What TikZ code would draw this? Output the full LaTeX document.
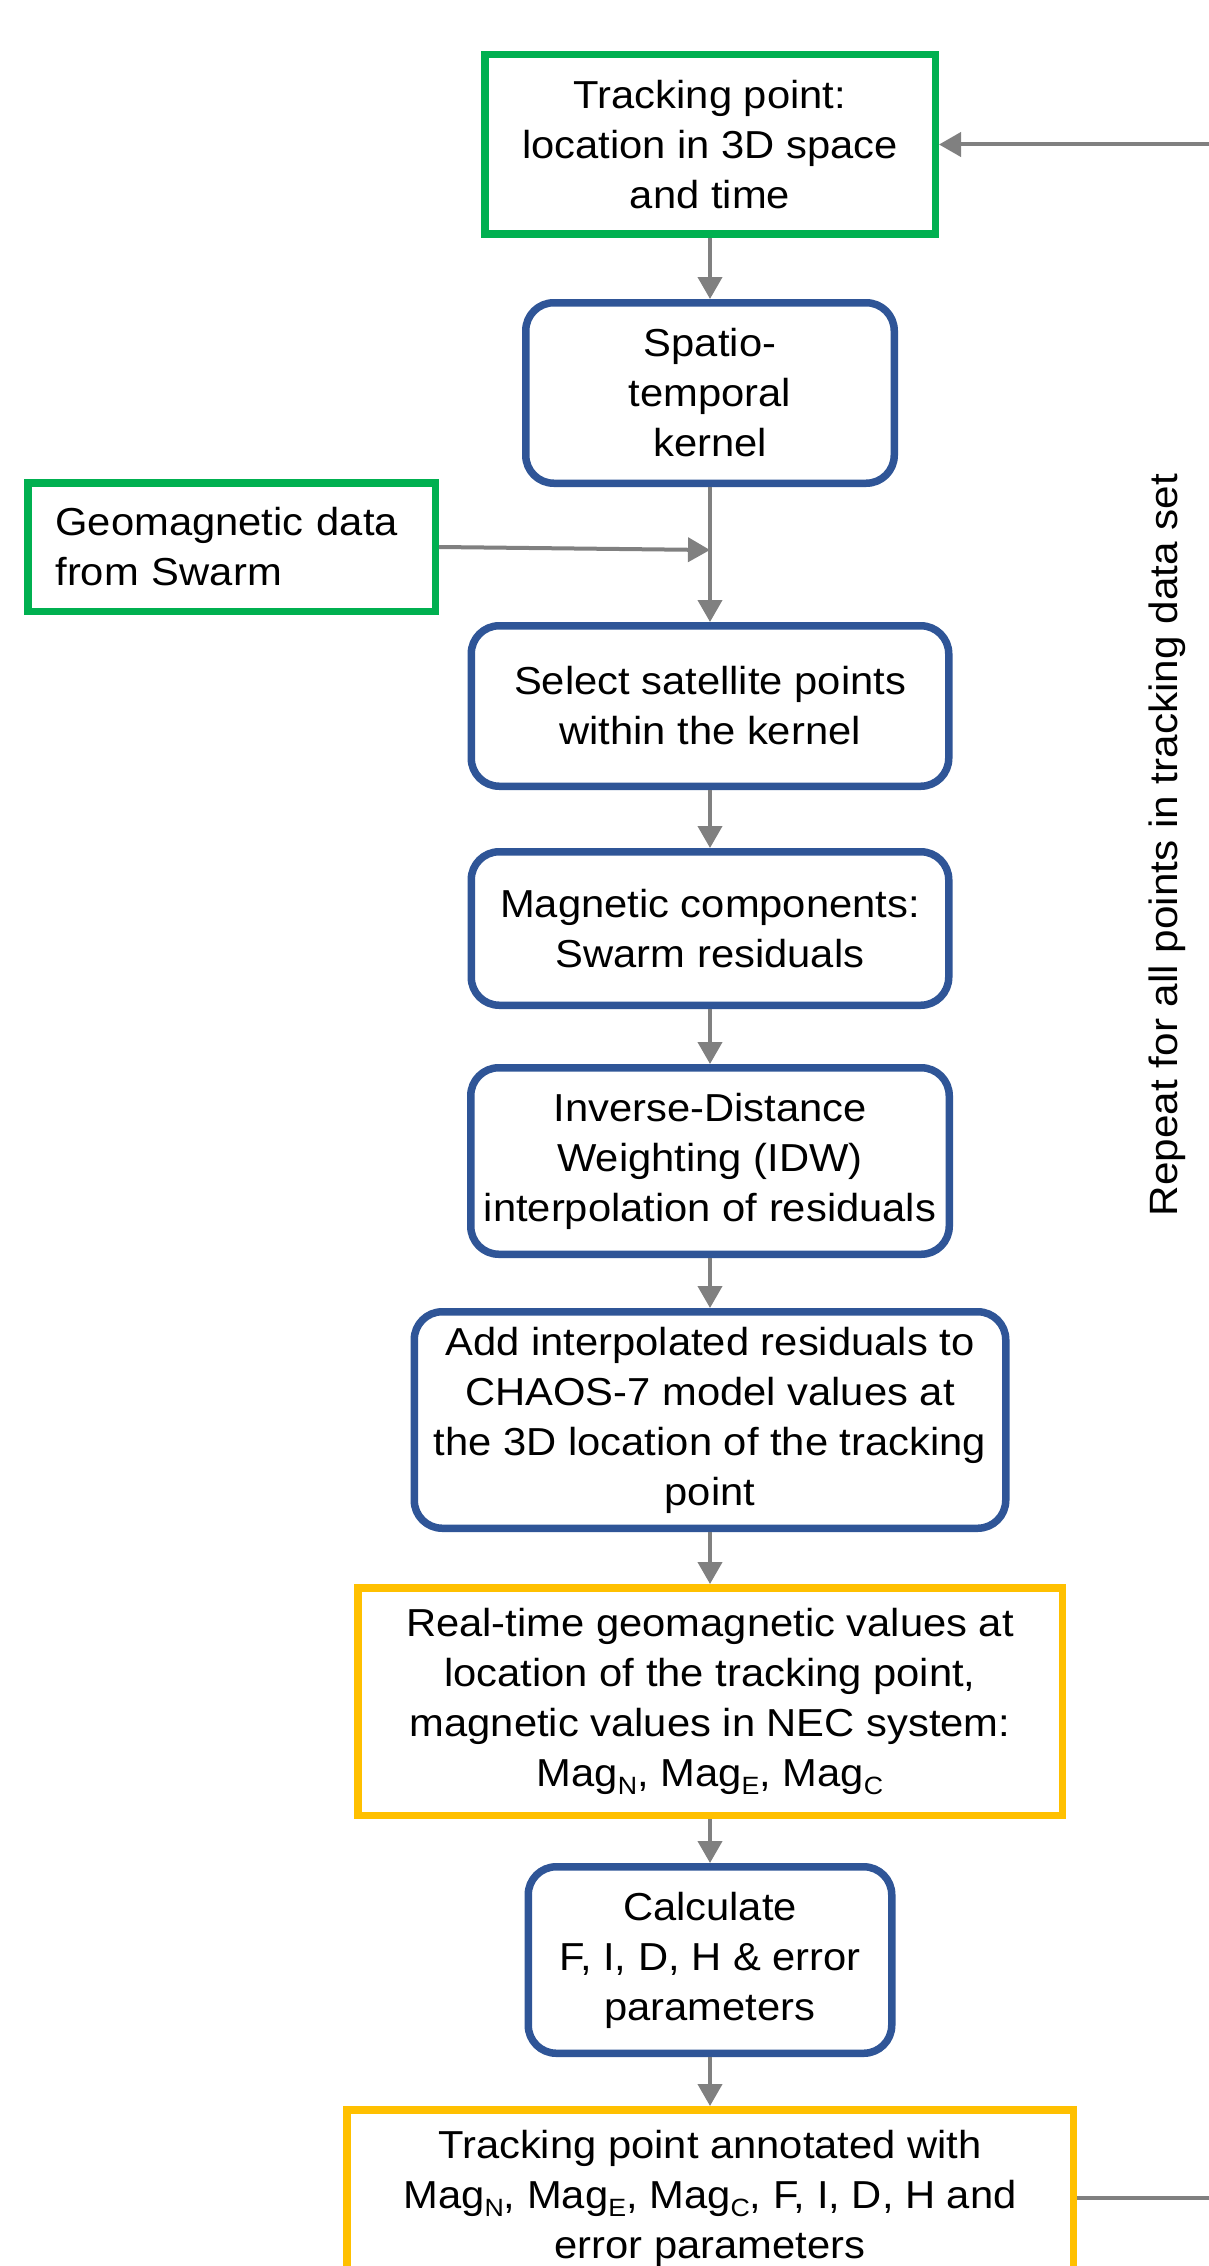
\documentclass[tikz,border=0pt]{standalone}
\usepackage{fontspec}
\setmainfont{Liberation Sans}[FakeStretch=1.07]
\usetikzlibrary{arrows.meta}
\definecolor{gboxcol}{RGB}{0,176,80}
\definecolor{bboxcol}{RGB}{47,85,151}
\definecolor{yboxcol}{RGB}{255,192,0}
\definecolor{conncol}{RGB}{128,128,128}
\newcommand{\sbs}[1]{\raisebox{-8pt}{\fontsize{25}{25}\selectfont #1}}
\begin{document}
\begin{tikzpicture}[x=1pt,y=-1pt,
  every node/.style={font=\fontsize{39}{50}\selectfont, inner sep=0pt, align=center, text=black},
  greenbox/.style={draw=gboxcol, line width=7.5pt, fill=white},
  bluebox/.style={draw=bboxcol, line width=7.5pt, rounded corners=28pt, fill=white},
  yellowbox/.style={draw=yboxcol, line width=7.5pt, fill=white},
  conn/.style={draw=conncol, line width=4pt, -{Triangle[length=22pt,width=24pt]}}
]
\useasboundingbox (0,0) rectangle (1209,2266);
\fill[white] (0,0) rectangle (1209,2266);
\clip (0,0) rectangle (1209,2266);

\node[greenbox, minimum width=450.5pt, minimum height=179.5pt] (tp) at (710,144.5) {Tracking point:\\location in 3D space\\and time};
\node[bluebox, minimum width=368.5pt, minimum height=180.5pt] (stk) at (710,393) {Spatio-\\temporal\\kernel};
\node[greenbox, minimum width=407.5pt, minimum height=128.5pt, text width=352pt, inner xsep=27.75pt, align=left] (geo) at (231.5,547) {Geomagnetic data\\from Swarm};
\node[bluebox, minimum width=477.5pt, minimum height=160.5pt] (sel) at (710,706) {Select satellite points\\within the kernel};
\node[bluebox, minimum width=477.5pt, minimum height=153.5pt] (mag) at (710,928.5) {Magnetic components:\\Swarm residuals};
\node[bluebox, minimum width=478.5pt, minimum height=186.5pt] (idw) at (710,1161) {Inverse-Distance\\Weighting (IDW)\\interpolation of residuals};
\node[bluebox, minimum width=591.5pt, minimum height=216.5pt] (add) at (710,1420) {Add interpolated residuals to\\CHAOS-7 model values at\\the 3D location of the tracking\\point};
\node[yellowbox, minimum width=704.5pt, minimum height=227.5pt] (rt) at (710,1701.5) {Real-time geomagnetic values at\\location of the tracking point,\\magnetic values in NEC system:\\Mag\sbs{N}, Mag\sbs{E}, Mag\sbs{C}};
\node[bluebox, minimum width=363.5pt, minimum height=186.5pt] (calc) at (710,1960) {Calculate\\F, I, D, H \& error\\parameters};
\node[yellowbox, minimum width=726.5pt, minimum height=176.5pt] (ann) at (710,2198) {Tracking point annotated with\\Mag\sbs{N}, Mag\sbs{E}, Mag\sbs{C}, F, I, D, H and\\error parameters};

\node[rotate=90, font=\fontsize{39.5}{48}\selectfont] (rep) at (1167,845) {Repeat for all points in tracking data set};

\coordinate (j) at (710,550);
\coordinate (r1) at (1245,2198);
\coordinate (r2) at (1245,144.5);

\draw[conn] (tp) -- (stk);
\draw[conn] (stk) -- (sel);
\draw[conn] (geo.east) -- (j);
\draw[conn] (sel) -- (mag);
\draw[conn] (mag) -- (idw);
\draw[conn] (idw) -- (add);
\draw[conn] (add) -- (rt);
\draw[conn] (rt) -- (calc);
\draw[conn] (calc) -- (ann);
\draw[conn] (ann.east) -- (r1) -- (r2) -- (tp.east);
\end{tikzpicture}
\end{document}
